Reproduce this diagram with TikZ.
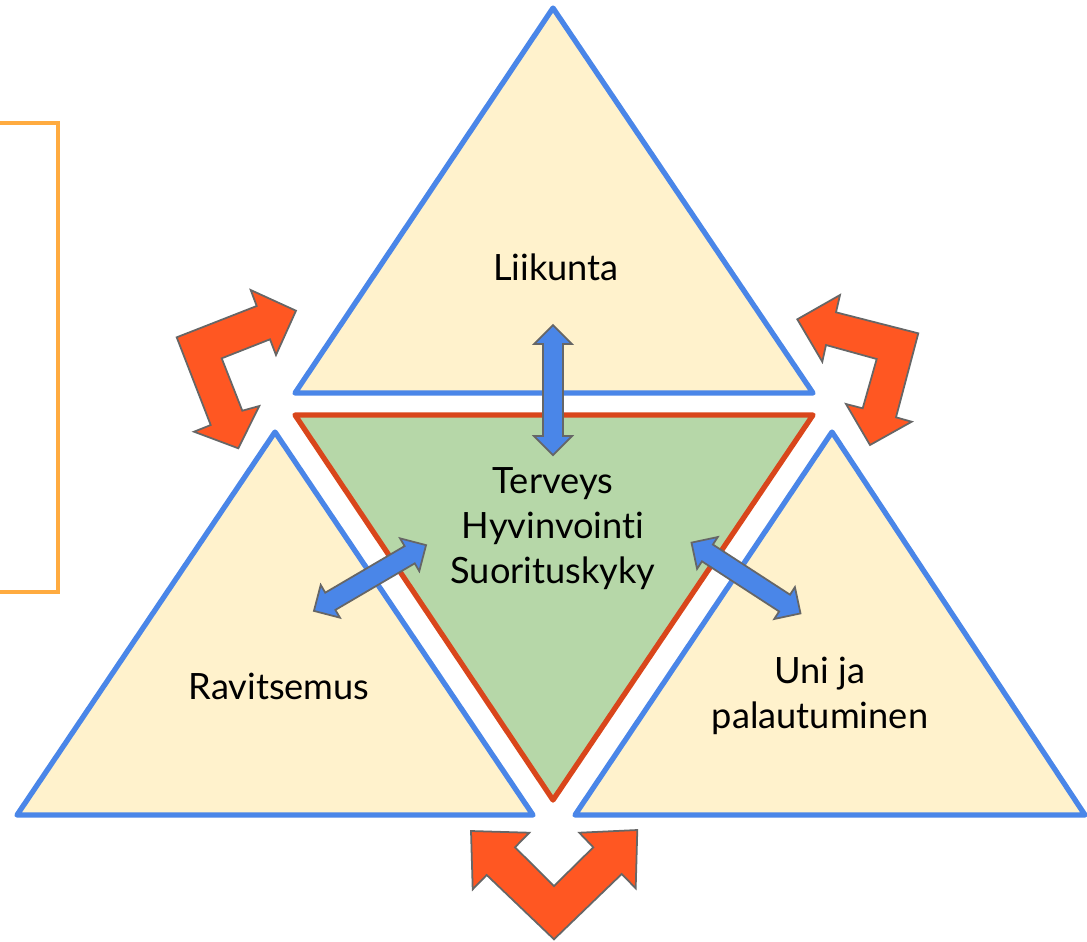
\documentclass[tikz,border=0pt]{standalone}
\usepackage{fontspec}
\setmainfont{Lato}[Ligatures=NoCommon]
\definecolor{kerma}{HTML}{FFF2CC}
\definecolor{sininen}{HTML}{4A86E8}
\definecolor{vihrea}{HTML}{B6D7A8}
\definecolor{punainen}{HTML}{D9461B}
\definecolor{oranssi}{HTML}{FF5722}
\definecolor{keltainen}{HTML}{FFAB40}
\definecolor{harmaa}{HTML}{666666}
\tikzset{
  kolmio/.style={draw=sininen, fill=kerma, line width=1.5pt, line join=round},
  keski/.style={draw=punainen, fill=vihrea, line width=1.5pt, line join=round},
  kaari/.style={draw=harmaa, fill=oranssi, line width=0.5pt},
  teksti/.style={font=\fontsize{10.3}{12.8}\selectfont, align=center, inner sep=0pt},
  kaksisuunta/.pic={
    \draw[draw=harmaa, fill=sininen, line width=0.5pt]
      (-65,0) -- (-46,19) -- (-46,10) -- (46,10) -- (46,19) -- (65,0)
      -- (46,-19) -- (46,-10) -- (-46,-10) -- (-46,-19) -- cycle;
  }
}
\begin{document}
\begin{tikzpicture}[x=0.01cm, y=-0.01cm]
\useasboundingbox (0,0) rectangle (1087,941);

\draw[keltainen, line width=1.4pt] (-5,123) -- (58,123) -- (58,592) -- (-5,592);

\draw[kolmio] (553,8) -- (813,393) -- (295,393) -- cycle;
\draw[kolmio] (275,432) -- (533,815) -- (17,815) -- cycle;
\draw[kolmio] (832,432) -- (1085,815) -- (575,815) -- cycle;
\draw[keski] (295,415) -- (813,415) -- (553,800) -- cycle;

\draw[kaari] (176.7,337.3) -- (256.7,306) -- (250.7,290) -- (296,310.7) -- (276,355)
  -- (270,339.3) -- (221.7,358.3) -- (242.3,410.7) -- (259.3,406) -- (238.3,448.3)
  -- (194,431.7) -- (210.7,425) -- cycle;
\draw[kaari] (918.3,333.3) -- (836,312.3) -- (840,295) -- (797.3,319.3) -- (822.3,361.7)
  -- (826,345) -- (876.7,359) -- (862.7,408.3) -- (846,404) -- (870,445)
  -- (911.7,421.7) -- (896,417.3) -- cycle;
\draw[kaari] (554,939.3) -- (486.7,875) -- (472.7,889.3) -- (471,831) -- (529.3,832.7)
  -- (515,847.3) -- (554,886) -- (593.3,847.3) -- (579.3,832.7) -- (637.3,830)
  -- (635.7,888.3) -- (621.7,874) -- cycle;

\pic[rotate=90] at (553,390) {kaksisuunta};
\pic[rotate=30.4] at (370,578) {kaksisuunta};
\pic[rotate=-33] at (746,578) {kaksisuunta};

\node[teksti] (liikunta) at (556,267) {Liikunta};
\node[teksti] (keskus) at (553,529) {Terveys\\Hyvinvointi\\Suorituskyky};
\node[teksti] (ravitsemus) at (279,686) {Ravitsemus};
\node[teksti] (uni) at (820,696) {Uni ja\\palautuminen};
\end{tikzpicture}
\end{document}
